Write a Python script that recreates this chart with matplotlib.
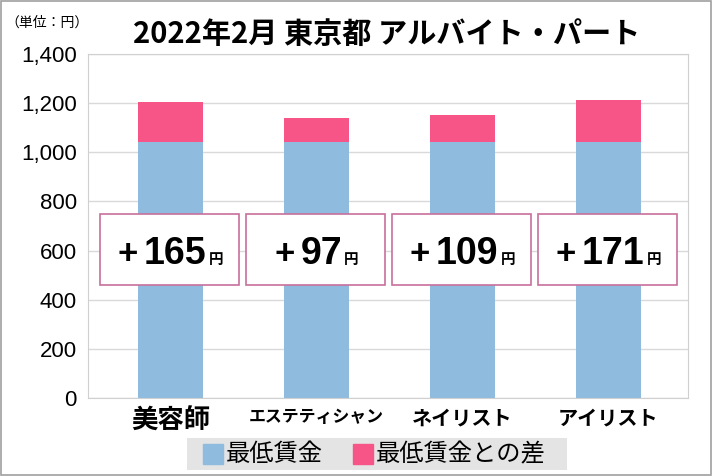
import matplotlib.pyplot as plt
from matplotlib.patches import Rectangle

plt.rcParams['font.family'] = ['Noto Sans CJK JP', 'DejaVu Sans']

# data
categories = ["美容師", "エステティシャン", "ネイリスト", "アイリスト"]
min_wage = [1041, 1041, 1041, 1041]
diff = [165, 97, 109, 171]
ticks = [0, 200, 400, 600, 800, 1000, 1200, 1400]
tick_labels = ["0", "200", "400", "600", "800", "1,000", "1,200", "1,400"]

blue = "#8fbbde"
pink = "#f75588"
latin = ['Liberation Sans', 'DejaVu Sans']

W, H = 712, 476
fig = plt.figure(figsize=(W / 100, H / 100), dpi=100)
ax = fig.add_axes([88 / W, (H - 398) / H, 600 / W, 344 / H])

x = list(range(len(categories)))
ax.bar(x, min_wage, width=0.445, color=blue, zorder=2)
ax.bar(x, diff, width=0.445, bottom=min_wage, color=pink, zorder=2)

ax.set_xlim(-0.565, 3.545)
ax.set_ylim(0, 1400)
ax.set_yticks(ticks)
ax.set_yticklabels(tick_labels, fontsize=16, family=latin)
ax.set_xticks(x)
ax.set_xticklabels(categories, fontweight='bold')
# labels are narrow in the original, so size them to fit
for lab, fs in zip(ax.get_xticklabels(), [19, 12.2, 14.5, 14.5]):
    lab.set_fontsize(fs)
ax.tick_params(length=0)
ax.tick_params(axis='y', pad=8)
ax.tick_params(axis='x', pad=7)
ax.grid(axis='y', color="#d9d9d9", lw=1, zorder=0)
for s in ax.spines.values():
    s.set_color("#d0d0d0")

# boxes with the difference
for i, d in enumerate(diff):
    ax.add_patch(Rectangle((i - 0.48, 460), 0.95, 289, facecolor='white',
                           edgecolor="#c8709c", lw=1.2, zorder=3))

fig.canvas.draw()
r = fig.canvas.get_renderer()
inv = ax.transData.inverted()
base = 545
for i, d in enumerate(diff):
    t0 = ax.text(i, base, "+", ha='left', va='baseline', fontsize=25,
                 fontweight='bold', family=latin, zorder=4)
    t1 = ax.text(i, base, str(d), ha='left', va='baseline', fontsize=27,
                 fontweight='bold', family=latin, zorder=4)
    t2 = ax.text(i, base, "円", ha='left', va='baseline', fontsize=10.5,
                 fontweight='bold', zorder=4)
    w0 = t0.get_window_extent(r).width
    w1 = t1.get_window_extent(r).width
    w2 = t2.get_window_extent(r).width
    gap0, gap1 = 6, 2
    px = ax.transData.transform((i, 0))[0]
    start = px - (w0 + gap0 + w1 + gap1 + w2) / 2
    t0.set_x(inv.transform((start, 0))[0])
    t1.set_x(inv.transform((start + w0 + gap0, 0))[0])
    t2.set_x(inv.transform((start + w0 + gap0 + w1 + gap1, 0))[0])

fig.text(387 / W, 1 - 34 / H, "2022年2月 東京都 アルバイト・パート", ha='center', va='center',
         fontsize=21, fontweight='bold')
fig.text(5 / W, 1 - 23 / H, "（単位：円）", ha='left', va='center', fontsize=10)

# legend
leg_ax = fig.add_axes([187 / W, (H - 470) / H, 380 / W, 32 / H])
leg_ax.set_facecolor("#e4e4e4")
leg_ax.set_xticks([])
leg_ax.set_yticks([])
for s in leg_ax.spines.values():
    s.set_visible(False)
leg_ax.set_xlim(0, 380)
leg_ax.set_ylim(0, 32)
leg_ax.add_patch(Rectangle((16, 6), 20, 20, color=blue))
leg_ax.text(39, 16, "最低賃金", va='center', fontsize=17.5)
leg_ax.add_patch(Rectangle((166, 6), 20, 20, color=pink))
leg_ax.text(189, 16, "最低賃金との差", va='center', fontsize=17.5)

fig.patches.append(Rectangle((0.002, 0.003), 0.996, 0.994, transform=fig.transFigure,
                             fill=False, edgecolor="#a0a0a0", lw=1.2))

fig.savefig("out.png", dpi=100)
